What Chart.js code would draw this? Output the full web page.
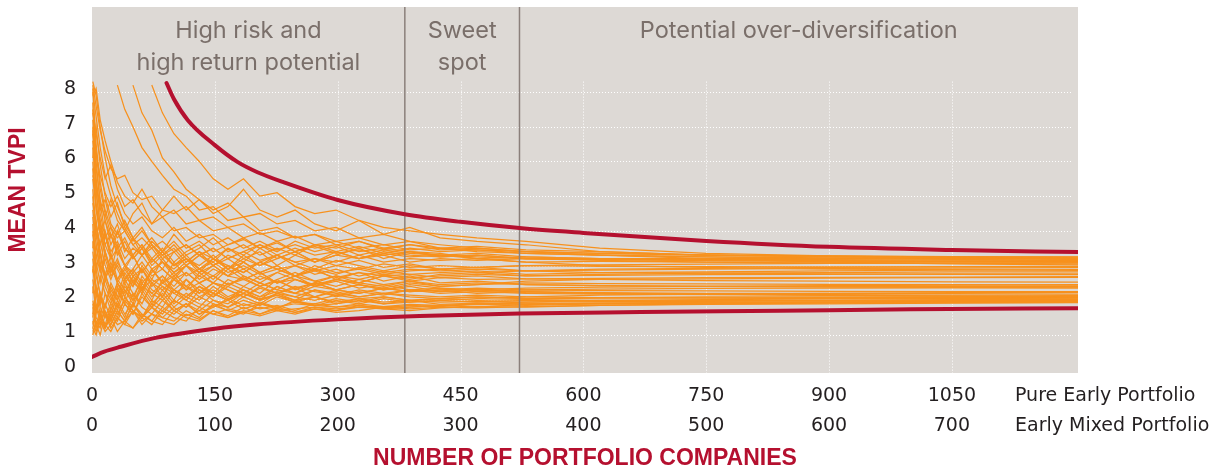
<!DOCTYPE html>
<html>
<head>
<meta charset="utf-8">
<title>Mean TVPI vs number of portfolio companies</title>
<script src="https://cdn.jsdelivr.net/npm/chart.js@4.4.1/dist/chart.umd.min.js"></script>
<style>
  html, body { margin: 0; padding: 0; background: #fff; }
  #wrap { position: relative; width: 1227px; height: 471px; }
</style>
</head>
<body>
<div id="wrap"><canvas id="tvpiChart" width="1227" height="471"></canvas></div>
<script>
'use strict';

// x positions (number of companies, pure early portfolio) shared by every simulated run
const X_COMPANIES = [1, 5, 10, 16, 23, 31, 40, 50, 61, 73, 86, 100, 115, 131, 148, 166, 185, 205, 226, 248, 272, 298, 326, 356, 388, 425, 470, 530, 620, 750, 900, 1050, 1204];

// simulated mean TVPI paths
const RUN_01 = [8.2, 7.6, 6.9, 6.3, 5.8, 5.5, 5.6, 5.1, 4.9, 5.0, 4.6, 4.5, 4.7, 4.3, 4.4, 4.1, 4.2, 3.9, 4.0, 3.8, 3.9, 3.7, 3.8, 3.6, 3.7, 3.5, 3.55, 3.45, 3.4, 3.3, 3.25, 3.22, 3.2];
const RUN_02 = [7.9, 8.1, 7.2, 6.6, 6.0, 5.4, 5.0, 4.8, 5.2, 4.7, 4.4, 4.6, 4.2, 4.3, 4.0, 4.1, 3.8, 3.95, 3.7, 3.85, 3.6, 3.7, 3.5, 3.6, 3.45, 3.5, 3.4, 3.35, 3.3, 3.25, 3.2, 3.18, 3.15];
const RUN_03 = [7.4, 6.8, 6.1, 5.5, 5.9, 5.2, 4.7, 4.9, 4.5, 4.2, 4.4, 4.0, 4.1, 3.8, 3.9, 3.6, 3.75, 3.5, 3.65, 3.4, 3.55, 3.35, 3.45, 3.3, 3.4, 3.25, 3.3, 3.2, 3.18, 3.15, 3.13, 3.12, 3.1];
const RUN_04 = [6.8, 6.2, 5.6, 5.1, 4.7, 5.0, 4.5, 4.2, 4.4, 4.0, 3.8, 4.1, 3.7, 3.9, 3.6, 3.8, 3.5, 3.7, 3.45, 3.6, 3.4, 3.55, 3.3, 3.45, 3.35, 3.3, 3.25, 3.2, 3.15, 3.1, 3.07, 3.06, 3.05];
const RUN_05 = [5.6, 5.2, 4.8, 4.4, 4.9, 4.3, 4.0, 4.5, 4.8, 4.2, 4.6, 5.0, 4.6, 4.9, 4.5, 4.7, 5.2, 4.6, 4.4, 4.6, 4.2, 4.0, 4.3, 3.9, 4.1, 3.8, 3.7, 3.6, 3.4, 3.3, 3.25, 3.22, 3.2];
const RUN_06 = [null, null, null, null, null, 8.2, 7.5, 7.0, 6.4, 6.0, 5.6, 5.2, 5.0, 4.6, 4.7, 4.3, 4.4, 4.0, 4.1, 3.8, 3.9, 3.6, 3.7, 3.5, 3.4, 3.35, 3.2, 3.1, 3.0, 2.95, 2.9, 2.88, 2.86];
const RUN_07 = [null, null, null, null, null, null, null, 8.2, 7.4, 6.9, 6.1, 5.7, 5.2, 4.9, 4.6, 4.8, 4.4, 4.5, 4.2, 4.3, 4.0, 4.1, 3.8, 3.9, 3.7, 3.6, 3.5, 3.4, 3.3, 3.2, 3.1, 3.05, 3.02];
const RUN_08 = [null, null, null, null, null, null, null, null, null, 8.2, 7.4, 6.8, 6.4, 6.0, 5.5, 5.2, 5.5, 5.0, 5.1, 4.7, 4.5, 4.6, 4.3, 4.1, 4.0, 3.9, 3.8, 3.7, 3.5, 3.35, 3.28, 3.22, 3.2];
const RUN_09 = [8.1, 6.5, 5.4, 4.6, 4.1, 3.8, 4.0, 3.6, 3.8, 3.5, 3.7, 3.4, 3.6, 3.3, 3.5, 3.2, 3.4, 3.15, 3.3, 3.1, 3.2, 3.0, 3.15, 2.95, 3.05, 2.9, 2.95, 2.85, 2.8, 2.78, 2.76, 2.75, 2.74];
const RUN_10 = [7.2, 5.8, 4.9, 4.3, 3.8, 4.2, 3.5, 3.3, 3.6, 3.1, 3.4, 3.0, 3.2, 2.9, 3.1, 2.8, 3.0, 2.75, 2.9, 2.7, 2.85, 2.65, 2.8, 2.7, 2.75, 2.65, 2.7, 2.62, 2.6, 2.57, 2.55, 2.53, 2.52];
const RUN_11 = [6.4, 5.1, 4.2, 3.6, 3.2, 3.5, 3.0, 2.8, 3.1, 2.7, 2.9, 2.6, 2.8, 2.5, 2.7, 2.45, 2.6, 2.4, 2.55, 2.35, 2.5, 2.3, 2.45, 2.3, 2.4, 2.25, 2.3, 2.22, 2.2, 2.18, 2.15, 2.12, 2.1];
const RUN_12 = [5.8, 4.6, 3.9, 3.3, 2.9, 2.6, 2.9, 2.5, 2.3, 2.6, 2.4, 2.2, 2.4, 2.1, 2.3, 2.05, 2.2, 2.0, 2.15, 1.95, 2.1, 1.9, 2.05, 1.9, 2.0, 1.88, 1.92, 1.9, 1.92, 1.93, 1.94, 1.95, 1.95];
const RUN_13 = [4.8, 4.2, 3.6, 4.0, 3.4, 3.7, 3.2, 3.5, 3.3, 3.6, 3.2, 3.4, 3.6, 3.3, 3.5, 3.2, 3.4, 3.6, 3.3, 3.5, 3.3, 3.4, 3.2, 3.35, 3.25, 3.3, 3.2, 3.25, 3.2, 3.18, 3.17, 3.16, 3.15];
const RUN_14 = [3.9, 3.3, 2.8, 3.2, 2.7, 3.0, 2.6, 2.9, 3.3, 2.9, 3.1, 2.8, 3.0, 3.3, 3.0, 3.2, 2.9, 3.1, 3.3, 3.0, 3.2, 3.1, 3.3, 3.1, 3.2, 3.15, 3.2, 3.1, 3.12, 3.1, 3.1, 3.1, 3.1];
const RUN_15 = [1.2, 1.6, 2.2, 1.8, 2.5, 2.1, 2.8, 2.4, 3.0, 2.6, 3.2, 2.8, 3.1, 3.4, 3.0, 3.3, 3.1, 3.5, 3.2, 3.4, 3.1, 3.3, 3.5, 3.2, 3.4, 3.3, 3.35, 3.25, 3.2, 3.2, 3.2, 3.22, 3.22];
const RUN_16 = [1.0, 1.4, 1.2, 1.9, 1.5, 2.3, 1.9, 2.6, 2.2, 2.9, 2.5, 2.8, 2.4, 2.7, 3.0, 2.7, 2.9, 2.6, 2.8, 3.0, 2.75, 2.9, 2.7, 2.85, 2.75, 2.8, 2.85, 2.75, 2.8, 2.82, 2.85, 2.87, 2.88];
const RUN_17 = [1.5, 2.4, 1.9, 2.8, 2.2, 1.8, 2.5, 2.0, 2.7, 2.3, 2.1, 2.6, 2.3, 2.8, 2.5, 2.4, 2.7, 2.5, 2.3, 2.6, 2.4, 2.6, 2.5, 2.4, 2.55, 2.45, 2.5, 2.45, 2.42, 2.4, 2.4, 2.4, 2.4];
const RUN_18 = [2.0, 1.5, 1.3, 1.7, 1.4, 2.0, 1.6, 1.9, 1.5, 1.8, 2.1, 1.7, 1.9, 1.6, 1.8, 2.0, 1.75, 1.9, 1.8, 1.95, 1.85, 1.9, 2.0, 1.9, 1.95, 2.0, 1.95, 2.0, 1.98, 2.0, 2.0, 2.02, 2.02];
const RUN_19 = [1.1, 1.3, 1.0, 1.6, 1.2, 1.5, 1.3, 1.7, 1.4, 1.6, 1.5, 1.8, 1.55, 1.7, 1.6, 1.75, 1.65, 1.8, 1.7, 1.75, 1.8, 1.75, 1.8, 1.82, 1.8, 1.85, 1.88, 1.85, 1.9, 1.92, 1.93, 1.94, 1.95];
const RUN_20 = [2.6, 1.9, 1.5, 2.2, 1.7, 2.4, 1.9, 1.6, 2.1, 1.8, 2.3, 1.9, 2.2, 2.0, 2.4, 2.1, 2.3, 2.0, 2.2, 2.35, 2.1, 2.25, 2.1, 2.2, 2.15, 2.1, 2.15, 2.1, 2.08, 2.06, 2.05, 2.04, 2.04];
const RUN_21 = [3.4, 2.7, 2.2, 1.8, 2.4, 2.0, 2.6, 2.2, 1.9, 2.5, 2.1, 2.7, 2.3, 2.5, 2.2, 2.6, 2.4, 2.7, 2.5, 2.6, 2.45, 2.6, 2.5, 2.7, 2.55, 2.65, 2.6, 2.62, 2.63, 2.65, 2.66, 2.67, 2.68];
const RUN_22 = [4.4, 3.6, 2.9, 2.4, 2.0, 2.5, 2.1, 2.7, 2.3, 2.9, 2.5, 3.1, 2.7, 2.9, 2.6, 3.0, 2.8, 3.1, 2.9, 3.0, 2.85, 3.0, 2.9, 3.05, 2.95, 3.0, 2.95, 3.0, 2.98, 2.97, 2.96, 2.96, 2.96];
const RUN_23 = [5.2, 4.1, 3.3, 2.7, 2.3, 2.0, 2.4, 2.1, 2.6, 2.2, 2.0, 2.3, 2.1, 2.4, 2.2, 2.0, 2.3, 2.1, 2.25, 2.1, 2.0, 2.15, 2.05, 2.1, 2.0, 2.05, 2.0, 2.02, 2.0, 1.99, 1.98, 1.98, 1.98];
const RUN_24 = [7.7, 6.0, 4.8, 3.9, 3.3, 2.9, 2.5, 2.8, 2.4, 2.2, 2.5, 2.3, 2.1, 2.4, 2.2, 2.0, 2.2, 2.05, 2.15, 2.0, 2.1, 1.95, 2.05, 1.95, 2.0, 1.95, 1.97, 1.95, 1.96, 1.97, 1.98, 1.99, 2.0];
const RUN_25 = [6.1, 7.0, 5.9, 5.0, 4.4, 4.8, 4.1, 3.7, 4.0, 3.6, 3.3, 3.6, 3.2, 3.0, 3.3, 2.9, 3.1, 2.8, 3.0, 2.7, 2.9, 2.6, 2.8, 2.55, 2.7, 2.5, 2.55, 2.45, 2.42, 2.4, 2.38, 2.37, 2.36];
const RUN_26 = [8.0, 7.3, 6.4, 5.6, 5.0, 4.5, 4.0, 3.6, 3.3, 3.5, 3.1, 2.9, 3.2, 2.8, 3.0, 2.7, 2.6, 2.8, 2.5, 2.7, 2.4, 2.55, 2.35, 2.45, 2.3, 2.35, 2.25, 2.2, 2.18, 2.16, 2.14, 2.12, 2.1];
const RUN_27 = [7.0, 5.4, 4.5, 3.8, 4.1, 3.5, 3.8, 3.3, 3.6, 3.2, 3.5, 3.1, 3.4, 3.6, 3.2, 3.5, 3.3, 3.6, 3.4, 3.7, 3.5, 3.6, 3.4, 3.5, 3.6, 3.45, 3.5, 3.4, 3.35, 3.3, 3.27, 3.25, 3.24];
const RUN_28 = [3.0, 2.3, 1.8, 1.5, 1.9, 1.6, 2.0, 1.7, 1.5, 1.9, 1.7, 2.0, 1.8, 2.1, 1.9, 1.8, 2.0, 1.85, 2.1, 1.95, 1.9, 2.05, 1.95, 2.1, 2.0, 2.05, 2.1, 2.05, 2.08, 2.1, 2.1, 2.1, 2.1];
const RUN_29 = [1.3, 1.8, 1.4, 1.2, 1.7, 1.4, 1.9, 1.6, 2.2, 1.8, 1.6, 2.0, 1.8, 2.3, 2.0, 1.9, 2.2, 2.0, 2.4, 2.2, 2.1, 2.3, 2.2, 2.35, 2.25, 2.3, 2.2, 2.25, 2.22, 2.2, 2.2, 2.19, 2.18];
const RUN_30 = [2.2, 3.1, 2.5, 3.4, 2.8, 3.6, 3.0, 3.3, 2.8, 3.2, 2.9, 3.4, 3.0, 3.3, 3.1, 3.5, 3.2, 3.4, 3.0, 3.3, 3.1, 3.4, 3.2, 3.3, 3.1, 3.2, 3.15, 3.2, 3.18, 3.15, 3.13, 3.12, 3.12];
const RUN_31 = [4.0, 3.2, 3.7, 3.0, 2.6, 3.1, 2.7, 2.4, 2.9, 2.5, 2.7, 2.4, 2.8, 2.5, 2.7, 2.45, 2.65, 2.4, 2.6, 2.8, 2.55, 2.7, 2.6, 2.75, 2.65, 2.7, 2.75, 2.7, 2.72, 2.74, 2.75, 2.76, 2.76];
const RUN_32 = [1.8, 1.2, 1.6, 1.3, 1.1, 1.5, 1.3, 1.2, 1.6, 1.4, 1.3, 1.7, 1.5, 1.4, 1.7, 1.55, 1.8, 1.6, 1.75, 1.65, 1.8, 1.7, 1.85, 1.75, 1.8, 1.85, 1.8, 1.88, 1.9, 1.92, 1.95, 1.97, 1.98];
const RUN_33 = [5.0, 3.9, 3.1, 2.6, 3.0, 2.5, 2.2, 2.7, 2.3, 2.9, 2.5, 2.7, 3.0, 2.6, 2.9, 2.7, 3.1, 2.8, 3.0, 2.7, 2.9, 2.75, 2.95, 2.8, 2.9, 2.85, 2.9, 2.85, 2.87, 2.9, 2.92, 2.93, 2.94];
const RUN_34 = [6.6, 5.5, 4.6, 4.9, 4.2, 3.9, 4.3, 3.8, 3.5, 3.8, 3.4, 3.7, 3.3, 3.5, 3.8, 3.4, 3.6, 3.3, 3.5, 3.3, 3.6, 3.4, 3.55, 3.35, 3.5, 3.4, 3.45, 3.35, 3.3, 3.25, 3.22, 3.2, 3.18];
const RUN_35 = [2.4, 1.7, 2.2, 1.6, 1.4, 1.9, 1.5, 2.2, 1.8, 1.6, 2.0, 1.7, 1.9, 1.6, 1.85, 1.7, 1.9, 1.75, 1.85, 1.7, 1.9, 1.8, 1.85, 1.78, 1.85, 1.82, 1.9, 1.95, 2.0, 2.02, 2.04, 2.05, 2.06];
const RUN_36 = [3.7, 2.9, 3.4, 2.6, 3.1, 2.5, 2.9, 3.3, 2.8, 3.2, 2.9, 2.6, 3.0, 2.7, 2.5, 2.9, 2.6, 2.8, 2.5, 2.7, 2.55, 2.4, 2.6, 2.45, 2.55, 2.4, 2.45, 2.5, 2.48, 2.47, 2.46, 2.45, 2.44];
const RUN_37 = [1.4, 1.1, 1.5, 1.2, 1.6, 1.3, 1.4, 1.9, 1.5, 1.3, 1.7, 1.5, 1.4, 1.8, 1.6, 1.5, 1.7, 1.6, 1.8, 1.65, 1.75, 1.7, 1.8, 1.75, 1.7, 1.78, 1.82, 1.8, 1.85, 1.9, 1.92, 1.93, 1.94];
const RUN_38 = [5.5, 4.7, 3.9, 4.3, 3.6, 4.0, 3.5, 3.2, 3.5, 3.1, 3.4, 3.0, 3.2, 2.9, 3.2, 3.0, 2.8, 3.1, 2.9, 2.7, 3.0, 2.8, 2.9, 2.75, 2.85, 2.9, 2.8, 2.85, 2.9, 2.92, 2.95, 2.97, 2.98];
const RUN_39 = [7.5, 6.3, 5.2, 4.5, 3.9, 3.4, 3.0, 2.7, 2.9, 2.5, 2.3, 2.6, 2.4, 2.2, 2.5, 2.3, 2.1, 2.35, 2.2, 2.4, 2.25, 2.15, 2.3, 2.2, 2.3, 2.25, 2.3, 2.35, 2.38, 2.4, 2.42, 2.44, 2.45];
const RUN_40 = [2.8, 3.6, 2.9, 3.9, 3.2, 4.0, 3.4, 3.8, 3.3, 3.7, 3.4, 3.9, 3.5, 3.7, 3.4, 3.6, 3.8, 3.5, 3.7, 3.4, 3.6, 3.5, 3.7, 3.45, 3.6, 3.5, 3.45, 3.4, 3.35, 3.3, 3.28, 3.26, 3.25];
const RUN_41 = [1.6, 2.1, 2.7, 2.2, 1.9, 2.5, 2.1, 1.8, 2.4, 2.0, 2.6, 2.2, 2.0, 2.4, 2.1, 2.5, 2.3, 2.1, 2.4, 2.2, 2.5, 2.3, 2.45, 2.35, 2.5, 2.4, 2.45, 2.55, 2.6, 2.62, 2.64, 2.65, 2.66];
const RUN_42 = [8.3, 7.9, 7.0, 6.1, 5.3, 4.7, 4.2, 3.8, 4.1, 3.6, 3.3, 3.0, 3.3, 2.9, 2.7, 3.0, 2.7, 2.5, 2.8, 2.6, 2.4, 2.6, 2.45, 2.3, 2.45, 2.35, 2.3, 2.25, 2.2, 2.18, 2.16, 2.15, 2.14];
const RUN_43 = [6.0, 4.8, 4.0, 3.4, 2.9, 2.6, 2.3, 2.0, 2.3, 1.9, 2.2, 1.8, 2.1, 1.9, 1.8, 2.05, 1.85, 1.95, 1.8, 1.9, 1.85, 1.8, 1.9, 1.82, 1.88, 1.85, 1.88, 1.9, 1.92, 1.94, 1.95, 1.96, 1.96];
const RUN_44 = [4.6, 3.8, 4.3, 3.6, 3.9, 3.3, 3.7, 3.2, 3.5, 3.0, 3.3, 3.5, 3.1, 3.4, 3.2, 2.9, 3.2, 3.0, 3.3, 3.1, 2.9, 3.15, 3.0, 2.85, 3.0, 2.9, 2.95, 3.0, 3.02, 3.04, 3.06, 3.07, 3.08];
const RUN_45 = [3.2, 2.4, 1.9, 2.6, 2.1, 1.7, 2.3, 1.9, 2.5, 2.1, 2.4, 2.0, 2.6, 2.3, 2.1, 2.4, 2.2, 2.5, 2.3, 2.2, 2.4, 2.3, 2.2, 2.35, 2.25, 2.3, 2.35, 2.3, 2.32, 2.34, 2.35, 2.36, 2.36];
const RUN_46 = [1.9, 1.3, 1.7, 1.2, 1.5, 1.1, 1.4, 1.7, 1.3, 1.6, 1.4, 1.3, 1.6, 1.45, 1.7, 1.5, 1.65, 1.55, 1.7, 1.6, 1.75, 1.65, 1.7, 1.8, 1.75, 1.8, 1.78, 1.82, 1.85, 1.88, 1.9, 1.92, 1.93];
const RUN_47 = [4.2, 2.9, 2.1, 1.6, 1.3, 1.7, 1.4, 1.9, 1.6, 1.4, 1.8, 1.6, 1.9, 1.7, 2.0, 1.8, 2.1, 1.9, 2.2, 2.0, 2.3, 2.1, 2.25, 2.15, 2.3, 2.2, 2.25, 2.3, 2.28, 2.27, 2.26, 2.25, 2.25];
const RUN_48 = [2.9, 2.2, 1.6, 1.3, 1.8, 1.5, 2.1, 1.7, 1.5, 2.0, 1.8, 2.3, 2.0, 1.8, 2.2, 2.0, 2.4, 2.2, 2.6, 2.3, 2.5, 2.7, 2.5, 2.7, 2.6, 2.75, 2.8, 2.7, 2.75, 2.78, 2.8, 2.82, 2.82];
const RUN_49 = [6.9, 5.2, 4.1, 3.4, 2.8, 3.2, 2.6, 2.9, 2.5, 2.8, 3.1, 2.7, 3.0, 2.8, 3.2, 2.9, 3.3, 3.0, 3.2, 3.4, 3.1, 3.3, 3.2, 3.4, 3.3, 3.25, 3.3, 3.2, 3.18, 3.15, 3.14, 3.13, 3.12];
const RUN_50 = [1.2, 1.0, 1.4, 1.1, 1.3, 1.7, 1.4, 1.2, 1.5, 1.8, 1.5, 1.4, 1.7, 1.5, 1.9, 1.7, 1.6, 1.9, 1.75, 2.0, 1.85, 2.0, 1.9, 2.05, 1.95, 2.0, 2.05, 2.1, 2.15, 2.18, 2.2, 2.22, 2.23];
const RUN_51 = [3.5, 4.3, 3.4, 2.7, 3.3, 2.6, 3.0, 2.5, 2.9, 2.4, 2.7, 2.3, 2.6, 2.2, 2.5, 2.3, 2.1, 2.4, 2.2, 2.1, 2.3, 2.2, 2.1, 2.2, 2.1, 2.05, 2.1, 2.05, 2.06, 2.07, 2.08, 2.08, 2.08];

const RUNS = [RUN_01, RUN_02, RUN_03, RUN_04, RUN_05, RUN_06, RUN_07, RUN_08, RUN_09, RUN_10,
  RUN_11, RUN_12, RUN_13, RUN_14, RUN_15, RUN_16, RUN_17, RUN_18, RUN_19, RUN_20,
  RUN_21, RUN_22, RUN_23, RUN_24, RUN_25, RUN_26, RUN_27, RUN_28, RUN_29, RUN_30,
  RUN_31, RUN_32, RUN_33, RUN_34, RUN_35, RUN_36, RUN_37, RUN_38, RUN_39, RUN_40,
  RUN_41, RUN_42, RUN_43, RUN_44, RUN_45, RUN_46, RUN_47, RUN_48, RUN_49, RUN_50, RUN_51];

// envelope curves
const UPPER_X = [91, 100, 117, 150, 178, 202, 233, 300, 382, 450, 522, 600, 750, 900, 1050, 1204];
const UPPER_Y = [8.26, 7.8, 7.19, 6.47, 5.98, 5.69, 5.41, 4.89, 4.48, 4.26, 4.08, 3.94, 3.71, 3.54, 3.45, 3.39];
const LOWER_X = [0, 15, 35, 76, 150, 200, 300, 400, 522, 670, 840, 1000, 1204];
const LOWER_Y = [0.37, 0.52, 0.66, 0.91, 1.18, 1.3, 1.45, 1.55, 1.62, 1.66, 1.7, 1.74, 1.77];

// zone borders and labels
const ZONE_BOUNDS = [0, 382, 522, 1204];
const ZONE_LABELS = [['High risk and', 'high return potential'], ['Sweet', 'spot'], ['Potential over-diversification']];

// axes
const PURE_TICKS = [0, 150, 300, 450, 600, 750, 900, 1050];
const MIXED_TICKS = [0, 100, 200, 300, 400, 500, 600, 700];
const TVPI_TICKS = [0, 1, 2, 3, 4, 5, 6, 7, 8];
const X_MAX = 1204;
const Y_MIN = -0.095;
const Y_MAX = 10.45;

const RED = '#b5102f';
const ORANGE = '#f7911d';
const TICK_FONT = { family: '"DejaVu Sans", Verdana, sans-serif', size: 19 };

function pts(xs, ys){ return xs.map((x, i) => ({ x: x, y: ys[i] == null ? null : ys[i] })); }

const datasets = [];
datasets.push({ data: pts(UPPER_X, UPPER_Y), borderColor: RED, borderWidth: 4, tension: 0.4, cubicInterpolationMode: 'monotone', borderCapStyle: 'round', order: 1 });
datasets.push({ data: pts(LOWER_X, LOWER_Y), borderColor: RED, borderWidth: 4, tension: 0.4, cubicInterpolationMode: 'monotone', borderCapStyle: 'round', order: 1 });
ZONE_BOUNDS.slice(1, -1).forEach(b => {
  datasets.push({ data: [{ x: b, y: Y_MIN }, { x: b, y: Y_MAX }], borderColor: '#8b807b', borderWidth: 1.5, order: 2 });
});
RUNS.forEach(run => {
  datasets.push({ data: pts(X_COMPANIES, run), borderColor: ORANGE, borderWidth: 1.25, order: 3, spanGaps: false });
});

// no extra room for the end labels, the plot box is fixed
function fixBox(w, h){
  return s => {
    if(w != null) s.width = w;
    if(h != null) s.height = h;
    s.paddingTop = 0; s.paddingBottom = 0; s.paddingLeft = 0; s.paddingRight = 0;
  };
}

// plot background, dotted grid and the free texts
const decorations = {
  id: 'decorations',
  beforeDatasetsDraw(chart){
    const { ctx, chartArea: a, scales: { x, y } } = chart;
    ctx.save();
    ctx.fillStyle = '#ddd9d5';
    ctx.fillRect(a.left, a.top, a.right - a.left, a.bottom - a.top);
    ctx.strokeStyle = '#ffffff';
    ctx.lineWidth = 1;
    ctx.setLineDash([1, 2]);
    ctx.beginPath();
    TVPI_TICKS.forEach(v => {
      if(!v) return;
      const py = Math.round(y.getPixelForValue(v)) + 0.5;
      ctx.moveTo(a.left, py); ctx.lineTo(a.right - 5, py);
    });
    PURE_TICKS.forEach(v => {
      if(!v) return;
      const px = Math.round(x.getPixelForValue(v)) + 0.5;
      ctx.moveTo(px, y.getPixelForValue(8.3)); ctx.lineTo(px, a.bottom);
    });
    ctx.stroke();
    ctx.restore();
  },
  afterDraw(chart){
    const { ctx, chartArea: a, scales: { x } } = chart;
    ctx.save();
    // zone labels
    ctx.fillStyle = '#7a6f6a';
    ctx.font = '23.5px Inter, "Open Sans", sans-serif';
    ctx.textAlign = 'center';
    ctx.textBaseline = 'middle';
    ZONE_LABELS.forEach((lines, i) => {
      const cx = (x.getPixelForValue(ZONE_BOUNDS[i]) + x.getPixelForValue(ZONE_BOUNDS[i + 1])) / 2;
      lines.forEach((t, j) => ctx.fillText(t, cx, 31 + j * 32));
    });
    // axis titles
    ctx.fillStyle = RED;
    ctx.font = 'bold 23px "Liberation Sans", Arial, sans-serif';
    ctx.fillText('NUMBER OF PORTFOLIO COMPANIES', (a.left + a.right) / 2, 459);
    ctx.save();
    ctx.translate(19, (a.top + a.bottom) / 2);
    ctx.rotate(-Math.PI / 2);
    ctx.fillText('MEAN TVPI', 0, 0);
    ctx.restore();
    // names of the two tick rows
    ctx.fillStyle = '#231f20';
    ctx.font = TICK_FONT.size + 'px ' + TICK_FONT.family;
    ctx.textAlign = 'left';
    ctx.fillText('Pure Early Portfolio', 1015, 396);
    ctx.fillText('Early Mixed Portfolio', 1015, 426);
    ctx.restore();
  }
};

const plainLabel = v => String(v);

new Chart(document.getElementById('tvpiChart'), {
  type: 'line',
  data: { datasets: datasets },
  options: {
    responsive: false,
    animation: false,
    events: [],
    layout: { padding: { left: 0, right: 149, top: 7, bottom: 0 } },
    elements: { point: { radius: 0 }, line: { tension: 0 } },
    plugins: { legend: { display: false }, tooltip: { enabled: false } },
    scales: {
      x: {
        type: 'linear', position: 'bottom', weight: 0, min: 0, max: X_MAX,
        grid: { display: false, drawTicks: false }, border: { display: false },
        afterBuildTicks: s => { s.ticks = PURE_TICKS.map(v => ({ value: v })); },
        afterFit: fixBox(null, 35),
        ticks: { font: TICK_FONT, color: '#231f20', padding: 12, maxRotation: 0, autoSkip: false, callback: plainLabel }
      },
      x2: {
        type: 'linear', position: 'bottom', weight: 1, min: 0, max: X_MAX * 2 / 3,
        grid: { display: false, drawTicks: false }, border: { display: false },
        afterBuildTicks: s => { s.ticks = MIXED_TICKS.map(v => ({ value: v })); },
        afterFit: fixBox(null, 63),
        ticks: { font: TICK_FONT, color: '#231f20', padding: 7, maxRotation: 0, autoSkip: false, callback: plainLabel }
      },
      y: {
        type: 'linear', position: 'left', min: Y_MIN, max: Y_MAX,
        grid: { display: false, drawTicks: false }, border: { display: false },
        afterBuildTicks: s => { s.ticks = TVPI_TICKS.map(v => ({ value: v })); },
        afterFit: fixBox(92, null),
        ticks: { font: TICK_FONT, color: '#231f20', padding: 16, labelOffset: -3, callback: plainLabel }
      }
    }
  },
  plugins: [decorations]
});
</script>
</body>
</html>
